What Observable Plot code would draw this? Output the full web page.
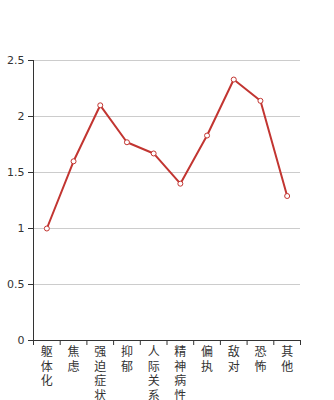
<!DOCTYPE html>
<html>
<head>
<meta charset="utf-8">
<script src="https://cdn.jsdelivr.net/npm/d3@7"></script>
<script src="https://cdn.jsdelivr.net/npm/@observablehq/plot@0.6"></script>
<style>
  html, body { margin: 0; padding: 0; background: #fff; }
</style>
</head>
<body>
<div id="chart"></div>
<script>
const categories = ["躯体化", "焦虑", "强迫症状", "抑郁", "人际关系", "精神病性", "偏执", "敌对", "恐怖", "其他"];
const values = [1.0, 1.6, 2.1, 1.77, 1.67, 1.4, 1.83, 2.33, 2.14, 1.29];
const yTicks = [0, 0.5, 1, 1.5, 2, 2.5];

const data = categories.map((c, i) => ({ cat: c, idx: i, value: values[i] }));
const boundaries = d3.range(categories.length + 1).map(i => i - 0.5);
const red = "#c23531";

const chart = Plot.plot({
  width: 334,
  height: 400,
  marginTop: 60,
  marginBottom: 60,
  marginLeft: 33,
  marginRight: 34,
  style: { fontFamily: "DejaVu Sans, sans-serif", fontSize: "11px", color: "#333", background: "#fff" },
  x: {
    domain: [-0.5, categories.length - 0.5],
    ticks: boundaries,
    tickFormat: () => "",
    tickSize: 5,
    label: null
  },
  y: {
    domain: [0, 2.5],
    ticks: yTicks,
    tickFormat: d => String(d),
    tickSize: 5,
    label: null
  },
  marks: [
    Plot.ruleY(yTicks.filter(d => d > 0), { stroke: "#ccc", strokeWidth: 1 }),
    Plot.ruleX([-0.5], { stroke: "#333", strokeWidth: 1 }),
    Plot.ruleY([0], { stroke: "#333", strokeWidth: 1 }),
    Plot.line(data, { x: "idx", y: "value", stroke: red, strokeWidth: 2 }),
    Plot.dot(data, { x: "idx", y: "value", r: 2.5, fill: "#fff", stroke: red, strokeWidth: 1 }),
    Plot.text(data, {
      x: "idx",
      y: 0,
      text: d => d.cat.split("").join("\n"),
      lineAnchor: "top",
      lineHeight: 1.22,
      dy: 5,
      fontSize: 12,
      fontFamily: "Noto Sans CJK SC, sans-serif",
      fill: "#333"
    })
  ]
});

document.getElementById("chart").appendChild(chart);
</script>
</body>
</html>
